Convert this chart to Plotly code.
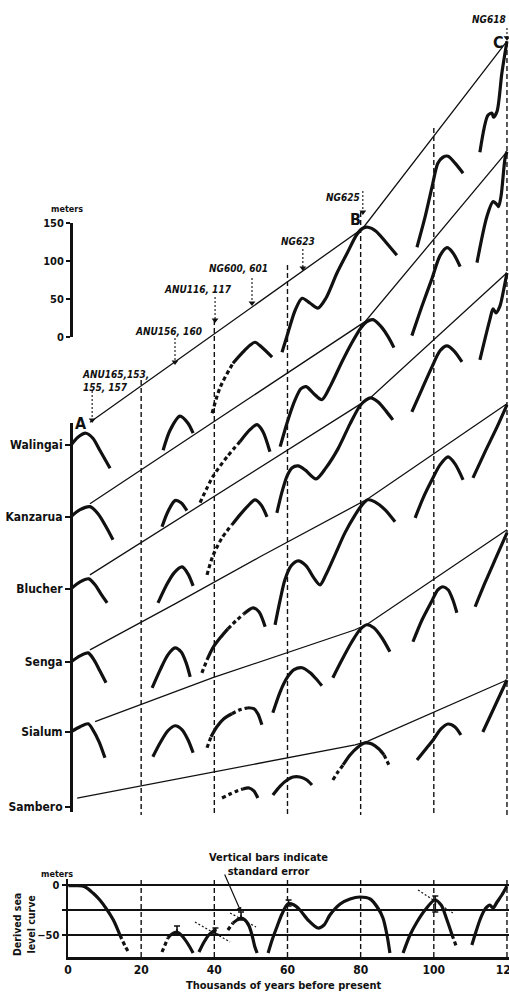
import plotly.graph_objects as go

# ---------------- data ----------------
stations = ["Walingai", "Kanzarua", "Blucher", "Senga", "Sialum", "Sambero"]
station_offset_m = [476, 382, 287, 191, 99, 0]   # vertical offset of each profile on the diagram (m)

# reef-crest profiles: (age ka, height m above station datum)
walingai_solid = [
    ([0.8, 2.7, 4.9, 6.8, 8.7, 11.5], [0, 10.5, 15.8, 9.2, -6.6, -30.3]),
    ([26.0, 27.9, 30.6, 32.8, 34.2], [-6.6, 19.7, 38.2, 28.9, 15.8]),
    ([45.1, 47.8, 49.75, 51.1, 53.0, 55.8], [107.9, 122.4, 131.6, 135.5, 128.9, 115.8]),
    ([58.5, 60.1, 62.1, 64.0, 66.2, 68.3, 70.5, 73.5, 76.3, 79.0, 80.6, 82.0, 84.2, 86.9, 89.9],
     [122.4, 147.4, 177.6, 193.4, 186.8, 180.3, 193.4, 226.3, 252.6, 277.6, 285.5, 286.8, 281.6, 267.1, 250.0]),
    ([95.4, 97.6, 99.5, 101.1, 102.5, 103.9, 105.8, 108.0], [260.5, 300.0, 339.5, 371.1, 378.9, 380.3, 371.1, 357.9]),
    ([112.6, 114.8, 115.9, 116.3, 117.3, 118.6, 120.0], [385.5, 434.2, 436.8, 431.6, 439.5, 489.5, 531.6]),
]
walingai_dashed = [([39.4, 41.6, 45.1], [42.1, 76.3, 107.9])]
walingai_uplift = ([6.0, 80.6, 120.0], [30.3, 285.5, 531.6])

kanzarua_solid = [
    ([0.8, 3.3, 6.0, 8.2, 10.4, 12.3], [0, 9.2, 13.2, 3.9, -13.2, -30.3]),
    ([25.7, 27.3, 29.25, 30.9, 32.5], [-13.2, 6.6, 21.1, 18.4, 7.9]),
    ([47.0, 49.75, 51.7, 53.3, 55.2], [98.7, 114.5, 121.1, 111.8, 85.5]),
    ([58.0, 59.9, 62.1, 63.7, 65.1, 67.2, 69.4, 71.9, 74.9, 77.6, 80.1, 81.7, 83.4, 85.6, 87.5, 89.1],
     [92.1, 123.7, 153.9, 168.4, 171.1, 161.8, 153.9, 173.7, 203.9, 228.9, 248.7, 256.6, 259.2, 250.0, 236.8, 222.4]),
    ([94.0, 96.8, 99.5, 101.7, 103.6, 105.2, 107.2], [238.2, 277.6, 313.2, 343.4, 353.9, 347.4, 328.9]),
    ([111.8, 114.5, 116.2, 117.3, 117.7, 118.4, 119.5, 120.0], [334.2, 394.7, 414.5, 410.5, 407.9, 422.4, 472.4, 480.3]),
]
kanzarua_dashed = [([36.1, 39.6, 43.5, 47.0], [18.4, 52.6, 78.9, 98.7])]
kanzarua_uplift = ([6.0, 81.2, 120.0], [17.1, 256.6, 480.3])

blucher_solid = [
    ([0.8, 3.3, 5.7, 7.4, 9.0, 10.7], [0, 9.2, 13.2, 5.3, -6.6, -18.4]),
    ([24.6, 26.8, 29.0, 31.2, 32.8, 34.2], [-18.4, 3.9, 21.1, 28.9, 19.7, 3.9]),
    ([44.8, 47.0, 49.2, 51.1, 52.8, 54.4], [84.2, 97.4, 109.2, 117.1, 110.5, 94.7]),
    ([57.1, 58.5, 59.9, 61.2, 62.9, 64.8, 67.8, 70.5, 73.8, 77.1, 79.8, 81.5, 82.8, 84.7, 86.9, 88.8],
     [100.0, 127.6, 148.7, 159.2, 161.8, 156.6, 144.7, 159.2, 184.2, 217.1, 240.8, 248.7, 251.3, 246.1, 234.2, 222.4]),
    ([94.0, 96.8, 99.5, 101.7, 103.6, 105.5, 107.7], [232.9, 263.2, 292.1, 313.2, 319.7, 313.2, 298.7]),
    ([112.6, 115.3, 116.2, 117.0, 118.1, 119.2, 120.0], [301.3, 353.9, 368.4, 363.2, 372.4, 396.1, 415.8]),
]
blucher_dashed = [([38.0, 39.6, 42.1, 44.8], [18.4, 43.4, 67.1, 84.2])]
blucher_uplift = ([6.0, 82.6, 120.0], [18.4, 251.3, 415.8])

senga_solid = [
    ([0.8, 3.3, 5.5, 7.1, 8.7, 10.4], [0, 7.9, 11.8, 2.6, -11.8, -27.6]),
    ([23.0, 25.2, 27.3, 29.25, 30.9, 32.3, 33.4], [-34.2, -10.5, 9.2, 18.4, 13.2, -1.3, -19.7]),
    ([38.0, 39.6, 41.6, 43.7], [2.6, 18.4, 31.6, 43.4]),
    ([48.1, 50.6, 52.2, 53.9], [63.2, 71.1, 65.8, 46.1]),
    ([56.6, 58.0, 59.3, 61.0, 62.9, 65.1, 67.2, 68.9, 70.5, 73.0, 75.7, 78.5, 80.4, 82.0, 83.9, 86.7, 89.4],
     [48.7, 81.6, 107.9, 126.3, 132.9, 126.3, 110.5, 101.3, 114.5, 140.8, 169.7, 193.4, 206.6, 213.2, 210.5, 200.0, 184.2]),
    ([94.9, 97.1, 99.5, 101.7, 103.9, 105.8, 108.0], [189.5, 215.8, 239.5, 259.2, 269.7, 260.5, 239.5]),
    ([110.7, 114.0, 117.3, 120.0], [242.1, 276.3, 309.2, 338.2]),
]
senga_dashed = [([36.6, 38.0], [-14.5, 2.6]), ([43.7, 45.9, 48.1], [43.4, 53.9, 63.2])]
senga_uplift = ([6.0, 29.25, 52.5, 82.0, 120.0], [15.8, 76.3, 138.2, 214.5, 339.5])

sialum_solid = [
    ([0.8, 3.3, 5.5, 6.8, 8.5, 10.1], [0, 6.6, 10.5, 2.6, -13.2, -34.2]),
    ([23.2, 25.2, 27.3, 29.25, 31.2, 32.8, 34.2], [-32.9, -14.5, 1.3, 7.9, 2.6, -10.5, -27.6]),
    ([39.1, 40.7, 42.6, 44.8], [-6.6, 6.6, 17.1, 23.7]),
    ([49.2, 50.8, 51.9, 53.0], [31.6, 30.3, 23.7, 9.2]),
    ([56.0, 58.0, 59.9, 61.8, 64.0, 66.2, 67.8, 69.4], [25.0, 52.6, 71.1, 81.6, 84.2, 77.6, 69.7, 60.5]),
    ([72.4, 74.9, 77.6, 79.8, 81.7, 83.6, 85.8, 88.0], [71.1, 94.7, 118.4, 134.2, 140.8, 136.8, 123.7, 105.3]),
    ([94.3, 96.8, 99.5, 101.1, 102.5, 103.9, 105.2, 106.3], [118.4, 147.4, 172.4, 186.8, 190.8, 186.8, 173.7, 156.6]),
    ([111.3, 114.0, 117.0, 120.0], [164.5, 196.1, 229.0, 261.8]),
]
sialum_dashed = [([38.0, 39.1], [-21.1, -6.6]), ([44.8, 47.0, 49.2], [23.7, 28.9, 31.6])]
sialum_uplift = ([7.4, 39.6, 78.5, 82.0, 120.0], [13.2, 71.1, 134.2, 142.1, 265.8])

sambero_solid = [
    ([47.8, 49.5, 50.8, 51.9], [23.7, 25.0, 21.1, 11.8]),
    ([56.0, 58.0, 59.9, 61.5, 63.4, 65.3, 66.7], [15.8, 27.6, 35.5, 39.5, 39.5, 35.5, 28.9]),
    ([75.2, 77.1, 79.3, 81.2, 83.1, 85.0, 86.4], [55.3, 68.4, 78.9, 84.2, 82.9, 76.3, 68.4]),
    ([95.4, 97.6, 99.8, 101.9, 103.9, 105.8, 107.4], [61.8, 75.0, 88.2, 102.6, 109.2, 105.3, 94.7]),
    ([113.4, 116.7, 120.0], [98.7, 132.9, 167.1]),
]
sambero_dashed = [([42.1, 44.3, 46.2, 47.8], [11.8, 17.1, 21.1, 23.7]),
                  ([72.4, 73.8, 75.2], [35.5, 46.1, 55.3]),
                  ([86.4, 87.2, 88.0], [68.4, 60.5, 52.6])]
sambero_uplift = ([2.5, 39.6, 78.5, 82.0, 120.0], [11.8, 46.1, 81.6, 86.8, 167.1])

# dated horizons (dashed verticals) on the diagram
horizon_ka = [20, 40, 60, 80, 100, 120]
horizon_top_m = [561.8, 640.8, 713.2, 782.9, 893.4, 1006.6]
horizon_bottom_m = -10.5

# sample arrows and labels
sample_labels = ["ANU165,153,<br>155, 157", "ANU156, 160", "ANU116, 117", "NG600, 601", "NG623", "NG625", "NG618"]
label_ka = [3.3, 27.6, 35.5, 46.5, 62.9, 75.2, 115.1]
label_m = [560.5, 625.0, 680.3, 707.9, 744.7, 802.6, 1036.8]
arrow_ka = [6.6, 29.25, 40.2, 50.3, 64.2, 80.6, 120.0]
arrow_top_m = [547.4, 617.1, 671.1, 696.1, 734.2, 810.5, 1025.0]
arrow_tip_m = [509.2, 585.5, 640.8, 663.2, 709.2, 782.9, 1012.0]

point_letters = ["A", "B", "C"]
letter_ka = [3.55, 78.5, 117.8]
letter_m = [504.0, 772.4, 1005.3]

scale_ticks = [0, 50, 100, 150]
scale_ends = [0, 150]

# derived sea level curve (ka, m)
derived_solid = [
    ([0.1, 2.4, 4.6, 6.9, 8.7, 10.6, 12.4, 14.2], [-0.7, -0.7, -1.7, -8.3, -15, -24.3, -35, -50]),
    ([27.3, 28.4, 29.8, 31.2, 32.8, 34.2], [-53, -49, -47, -51, -59, -68]),
    ([35.8, 37.2, 38.5, 40.5], [-67, -57, -50, -44]),
    ([45.1, 46.2, 47.3, 48.4, 49.5, 50.3, 51.1, 51.7], [-38, -35, -33, -35, -41, -50, -62, -68]),
    ([54.7, 55.8, 57.1, 58.5, 60.1, 61.8, 63.4, 65.6, 68.3, 70.0, 71.6, 74.4, 77.1, 79.8, 82.6, 84.7, 86.1, 87.2, 88.0],
     [-68, -55, -42, -29, -19, -20, -25, -35, -43, -40, -30, -19, -14, -12, -14, -23, -33, -50, -68]),
    ([91.6, 93.5, 95.4, 97.6, 100.3, 102.0, 103.6, 105.0], [-68, -50, -37, -25, -15, -20, -35, -50]),
    ([110.4, 111.5, 112.6, 113.7, 114.5, 115.3, 116.2, 117.3, 118.6, 120.0],
     [-60, -47, -35, -26, -22, -20, -23, -17, -10, -1]),
]
derived_dashed = [
    ([14.2, 15.6, 16.5], [-50, -61, -67]),
    ([25.7, 27.3], [-67, -53]),
    ([43.7, 45.1], [-45, -38]),
    ([105.0, 106.3], [-50, -63]),
]
err_ka = [29.8, 40.3, 47.3, 60.3, 100.4]
err_m = [-45, -46, -31, -18, -19]
err_pm = [4, 3, 4, 3, 8]
tangent_segments = [([34.7, 44.3], [-37, -57]), ([44.3, 51.4], [-28, -42]), ([95.7, 105.2], [-5, -28])]
bottom_ticks = [0, 20, 40, 60, 80, 100, 120]
bottom_horizon_top = 5
bottom_floor = -72

# ---------------- figure ----------------
W, H = 509, 993
INK = "#111111"
FONT = "Liberation Sans Narrow, DejaVu Sans Condensed, Roboto, sans-serif"

fig = go.Figure()


def add_line(x, y, xa="x", ya="y", width=3.2, dash="solid", shape="spline"):
    fig.add_trace(go.Scatter(
        x=x, y=y, xaxis=xa, yaxis=ya, mode="lines",
        line=dict(color=INK, width=width, dash=dash, shape=shape, smoothing=0.8),
        hoverinfo="skip", showlegend=False))


# horizons
for k, top in zip(horizon_ka, horizon_top_m):
    add_line([k, k], [top, horizon_bottom_m], width=1.4, dash="5px,3px", shape="linear")

all_solid = [walingai_solid, kanzarua_solid, blucher_solid, senga_solid, sialum_solid, sambero_solid]
all_dashed = [walingai_dashed, kanzarua_dashed, blucher_dashed, senga_dashed, sialum_dashed, sambero_dashed]
all_uplift = [walingai_uplift, kanzarua_uplift, blucher_uplift, senga_uplift, sialum_uplift, sambero_uplift]

for off, sol, das, upl in zip(station_offset_m, all_solid, all_dashed, all_uplift):
    add_line(upl[0], [v + off for v in upl[1]], width=1.3, shape="linear")
    for ka, m in sol:
        add_line(ka, [v + off for v in m], width=3.2)
    for ka, m in das:
        add_line(ka, [v + off for v in m], width=3.2, dash="4px,3px")

# sample arrows
for k, t0, t1 in zip(arrow_ka, arrow_top_m, arrow_tip_m):
    add_line([k, k], [t0, t1], width=1.1, dash="2px,2px", shape="linear")
fig.add_trace(go.Scatter(x=arrow_ka, y=arrow_tip_m, mode="markers", xaxis="x", yaxis="y",
                         marker=dict(symbol="triangle-down", size=6, color=INK),
                         hoverinfo="skip", showlegend=False))

# dummy traces for scale bar and station axes
for ya in ["y3", "y4", "y5"]:
    fig.add_trace(go.Scatter(x=[None], y=[None], xaxis="x", yaxis=ya, showlegend=False, hoverinfo="skip"))

# bottom panel
for k in bottom_ticks[1:]:
    add_line([k, k], [bottom_horizon_top, bottom_floor], "x2", "y2", width=1.4, dash="5px,3px", shape="linear")
for ka, m in tangent_segments:
    add_line(ka, m, "x2", "y2", width=1.2, dash="2px,2px", shape="linear")
for ka, m in derived_solid:
    add_line(ka, m, "x2", "y2", width=3.2)
for ka, m in derived_dashed:
    add_line(ka, m, "x2", "y2", width=3.2, dash="4px,3px")
fig.add_trace(go.Scatter(x=err_ka, y=err_m, xaxis="x2", yaxis="y2", mode="markers",
                         marker=dict(size=2, color=INK),
                         error_y=dict(type="data", array=err_pm, color=INK, thickness=1.6, width=3),
                         hoverinfo="skip", showlegend=False))

ann = []
for t, k, m in zip(sample_labels, label_ka, label_m):
    left = "<br>" in t
    ann.append(dict(x=k, y=m, xref="x", yref="y", text=t, showarrow=False,
                    xanchor="left" if left else "center", align="left", yanchor="middle",
                    font=dict(family=FONT, size=10, color=INK, style="italic", weight="bold")))
for t, k, m in zip(point_letters, letter_ka, letter_m):
    ann.append(dict(x=k, y=m, xref="x", yref="y", text=t, showarrow=False,
                    xanchor="center", yanchor="middle",
                    font=dict(family=FONT, size=16, color=INK, weight="bold")))


def paper_text(px, py, text, size, angle=0):
    ann.append(dict(x=px / W, y=1 - py / H, xref="paper", yref="paper", text=text, showarrow=False,
                    xanchor="center", yanchor="middle", textangle=angle,
                    font=dict(family=FONT, size=size, color=INK, weight="bold")))


paper_text(67, 209, "meters", 9)
paper_text(57, 874, "meters", 9)
paper_text(24, 925, "Derived sea<br>level curve", 10.5, -90)
paper_text(284, 985, "Thousands of years before present", 11)
paper_text(268, 864, "Vertical bars indicate<br>standard error", 11)
ann.append(dict(x=47.3, y=-27, xref="x2", yref="y2", text="", showarrow=True,
                ax=-17, ay=-39, arrowhead=2, arrowsize=0.8, arrowwidth=1.2, arrowcolor=INK))

xdom = [68 / W, 508.8 / W]
tickfont = dict(family=FONT, size=11, color=INK, weight="bold")
scale_dom = [1 - 337 / H, 1 - 223 / H]

fig.update_layout(
    template="none",
    width=W, height=H, margin=dict(l=0, r=0, t=0, b=0, pad=0, autoexpand=False),
    paper_bgcolor="white", plot_bgcolor="rgba(0,0,0,0)",
    showlegend=False, annotations=ann,
    xaxis=dict(domain=xdom, range=[0, 120.5], visible=False, anchor="y", automargin=False),
    yaxis=dict(domain=[1 - 830 / H, 1], range=[-30.26, 1061.8], visible=False, anchor="x", automargin=False),
    yaxis3=dict(domain=scale_dom, range=[0, 150], anchor="free", position=71 / W,
                showline=True, linewidth=2.5, linecolor=INK, ticks="outside", ticklen=4, tickwidth=2,
                tickcolor=INK, tickvals=scale_ticks, tickfont=tickfont, showgrid=False, zeroline=False,
                automargin=False),
    yaxis5=dict(domain=scale_dom, range=[0, 150], anchor="free", position=71 / W,
                showline=False, ticks="inside", ticklen=5, tickwidth=2, tickcolor=INK,
                tickvals=scale_ends, showticklabels=False, showgrid=False, zeroline=False, automargin=False),
    yaxis4=dict(domain=[1 - 812 / H, 1 - 423 / H], range=[-6.58, 505.3], anchor="free", position=71 / W,
                showline=True, linewidth=2.5, linecolor=INK, ticks="outside", ticklen=5, tickwidth=2,
                tickcolor=INK, tickvals=station_offset_m, ticktext=stations,
                tickfont=dict(family=FONT, size=12, color=INK, weight="bold"),
                showgrid=False, zeroline=False, automargin=False),
    xaxis2=dict(domain=xdom, range=[0, 120.5], anchor="y2", showline=True, linewidth=2.5, linecolor=INK,
                ticks="", tickvals=bottom_ticks, ticklabeloverflow="allow",
                tickfont=dict(family=FONT, size=12, color=INK, weight="bold"),
                showgrid=False, zeroline=False, automargin=False),
    yaxis2=dict(domain=[1 - 957 / H, 1 - 879 / H], range=[bottom_floor, 6], anchor="x2",
                showline=True, linewidth=2.5, linecolor=INK, ticks="outside", ticklen=4, tickwidth=1.5,
                tickcolor=INK, tickvals=[0, -25, -50], ticktext=["0", "", "\u221250"], tickfont=tickfont,
                showgrid=True, gridcolor=INK, gridwidth=1.2,
                zeroline=True, zerolinecolor=INK, zerolinewidth=2.2, automargin=False),
)

fig.write_html("out.html", config={"displayModeBar": False, "staticPlot": True},
               post_script="document.body.style.margin='0';document.body.style.padding='0';"
                           "document.body.style.overflow='hidden';")
